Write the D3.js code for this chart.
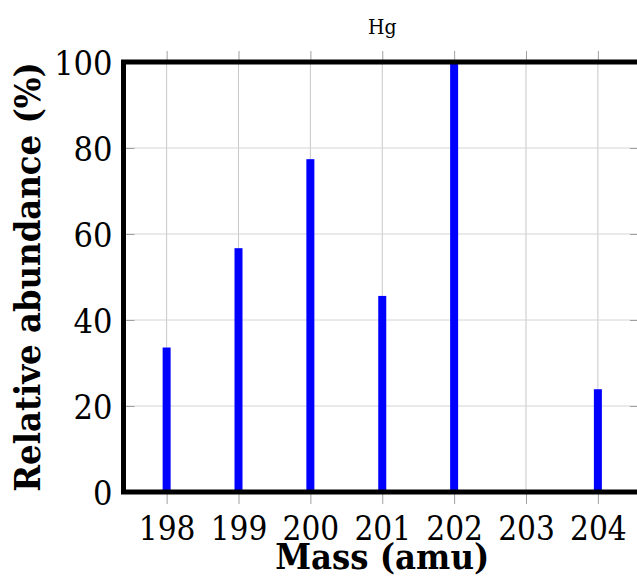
<!DOCTYPE html>
<html>
<head>
<meta charset="utf-8">
<script src="https://cdn.jsdelivr.net/npm/d3@7"></script>
<style>
  body { margin: 0; background: #fff; }
  svg { display: block; }
  svg text { font-family: "DejaVu Serif Condensed", "DejaVu Serif", serif; font-stretch: condensed; }
</style>
</head>
<body>
<div id="container"></div>
<script>
const width = 637;
const height = 576;
const marginTop = 62;
const marginLeft = 123.5;
const plotBottom = 492;
const plotRight = 641;

// isotope masses and relative abundance
const masses = [198, 199, 200, 201, 202, 204];
const abundance = [33.6, 56.7, 77.4, 45.6, 100, 23.9];
const xTicks = [198, 199, 200, 201, 202, 203, 204];
const yTicks = [0, 20, 40, 60, 80, 100];
const title = "Hg";

const x = d3.scaleLinear()
  .domain([197.4, 204.6])
  .range([marginLeft, plotRight]);

const y = d3.scaleLinear()
  .domain([0, 100])
  .range([plotBottom, marginTop]);

const svg = d3.create("svg")
  .attr("width", width)
  .attr("height", height);

// grid
svg.append("g")
  .selectAll("line")
  .data(xTicks)
  .join("line")
  .attr("x1", d => x(d)).attr("x2", d => x(d))
  .attr("y1", marginTop).attr("y2", plotBottom)
  .attr("stroke", "#c8c8c8").attr("stroke-width", 1);

svg.append("g")
  .selectAll("line")
  .data(yTicks)
  .join("line")
  .attr("x1", marginLeft).attr("x2", plotRight)
  .attr("y1", d => y(d)).attr("y2", d => y(d))
  .attr("stroke", "#d4d4d4").attr("stroke-width", 1);

// bars
svg.append("g")
  .selectAll("rect")
  .data(masses)
  .join("rect")
  .attr("x", d => x(d) - 4)
  .attr("y", (d, i) => y(abundance[i]))
  .attr("width", 8)
  .attr("height", (d, i) => plotBottom - y(abundance[i]))
  .attr("fill", "#0000ff");

const tickStyle = g => {
  g.select(".domain").remove();
  g.selectAll(".tick line").attr("stroke", "#a0a0a0");
};

// x axis bottom
svg.append("g")
  .attr("transform", `translate(0,${plotBottom})`)
  .call(d3.axisBottom(x).tickValues(xTicks).tickFormat(d3.format("d")).tickSize(12))
  .call(tickStyle)
  .call(g => g.selectAll(".tick text")
    .attr("font-family", null)
    .attr("font-size", 33)
    .attr("y", 48)
    .attr("dy", 0)
    .attr("fill", "#000"));

// x axis top (marks only)
svg.append("g")
  .attr("transform", `translate(0,${marginTop})`)
  .call(d3.axisTop(x).tickValues(xTicks).tickFormat("").tickSize(11))
  .call(tickStyle);

// y axis left
svg.append("g")
  .attr("transform", `translate(${marginLeft},0)`)
  .call(d3.axisLeft(y).tickValues(yTicks).tickSize(-11).tickPadding(11))
  .call(tickStyle)
  .call(g => g.selectAll(".tick text")
    .attr("font-family", null)
    .attr("font-size", 34)
    .attr("dy", "0.38em")
    .attr("fill", "#000"));

// y axis right (marks only, mostly cut off)
svg.append("g")
  .attr("transform", `translate(${plotRight},0)`)
  .call(d3.axisRight(y).tickValues(yTicks).tickFormat("").tickSize(-11))
  .call(tickStyle);

// frame
svg.append("path")
  .attr("d", `M${plotRight},${marginTop}H${marginLeft}V${plotBottom}H${plotRight}`)
  .attr("fill", "none")
  .attr("stroke", "#000")
  .attr("stroke-width", 5);

svg.append("text")
  .attr("x", (marginLeft + plotRight) / 2)
  .attr("y", 34)
  .attr("text-anchor", "middle")
  .attr("font-size", 21)
  .text(title);

svg.append("text")
  .attr("x", (marginLeft + plotRight) / 2)
  .attr("y", 569)
  .attr("text-anchor", "middle")
  .attr("font-size", 36)
  .attr("font-weight", "bold")
  .text("Mass (amu)");

svg.append("text")
  .attr("transform", `translate(40,${(marginTop + plotBottom) / 2}) rotate(-90)`)
  .attr("text-anchor", "middle")
  .attr("font-size", 36)
  .attr("font-weight", "bold")
  .text("Relative abundance (%)");

container.append(svg.node());
</script>
</body>
</html>
